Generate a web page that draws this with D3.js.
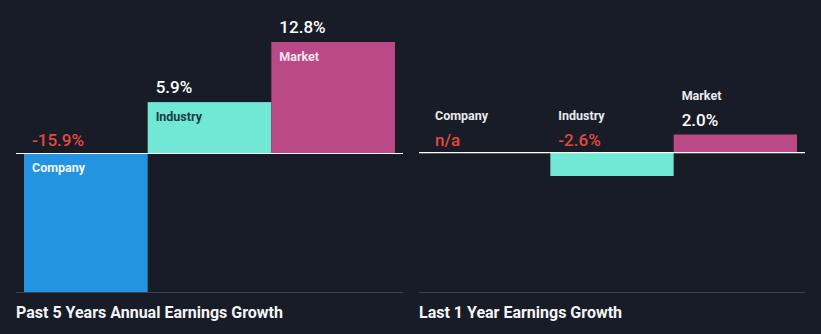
<!DOCTYPE html>
<html>
<head>
<meta charset="utf-8">
<script src="https://cdn.jsdelivr.net/npm/d3@7/dist/d3.min.js"></script>
<style>
  html, body { margin: 0; padding: 0; background: #181c26; }
  svg { display: block; font-family: Roboto, "Noto Sans", sans-serif; }
</style>
</head>
<body>
<svg id="chart" width="821" height="334"></svg>
<script>
// Earnings growth: company vs industry vs market
const categories = ["Company", "Industry", "Market"];
const fiveYearValues = [-15.9, 5.9, 12.8];
const oneYearValues = [null, -2.6, 2.0];
const panelTitles = ["Past 5 Years Annual Earnings Growth", "Last 1 Year Earnings Growth"];

const barColors = { Company: "#2394df", Industry: "#71e7d6", Market: "#bb4988" };
const insideLabelColors = { Company: "#f2f4f7", Industry: "#1b3a44", Market: "#f5e6ef" };
const negColor = "#e5473f";
const posColor = "#ffffff";

const svg = d3.select("#chart");

// plain hyphen for negatives
const fmt = v => v == null ? "n/a" : v.toFixed(1) + "%";

function drawPanel(x0, x1, barX0, barX1, values, yDomain, yRange, title, inside) {
  const g = svg.append("g");
  const x = d3.scaleBand().domain(categories).range([barX0, barX1]).padding(0);
  const y = d3.scaleLinear().domain(yDomain).range(yRange);
  const zero = y(0);

  const data = categories.map((c, i) => ({ c, v: values[i] }));

  g.selectAll("rect.bar")
    .data(data.filter(d => d.v != null))
    .join("rect")
    .attr("class", "bar")
    .attr("x", d => x(d.c))
    .attr("width", x.bandwidth())
    .attr("y", d => Math.min(y(d.v), zero))
    .attr("height", d => Math.abs(y(d.v) - zero))
    .attr("fill", d => barColors[d.c]);

  // zero line
  g.append("line")
    .attr("x1", x0).attr("x2", x1)
    .attr("y1", zero).attr("y2", zero)
    .attr("stroke", "#ffffff").attr("stroke-width", 1.2);

  // base line above the title
  g.append("line")
    .attr("x1", x0).attr("x2", x1)
    .attr("y1", 292.5).attr("y2", 292.5)
    .attr("stroke", "#3b404b").attr("stroke-width", 1);

  data.forEach(d => {
    const tx = x(d.c) + 8;
    const v = d.v;
    const valueBase = (v != null && v > 0) ? y(v) - 9 : zero - 7;
    g.append("text")
      .attr("x", tx).attr("y", valueBase)
      .attr("font-size", 17).attr("font-weight", 500)
      .attr("fill", v != null && v > 0 ? posColor : negColor)
      .text(fmt(v));
    if (inside) {
      const labBase = (v > 0 ? y(v) : zero) + 19;
      g.append("text")
        .attr("x", tx).attr("y", labBase)
        .attr("font-size", 12.5).attr("font-weight", 700)
        .attr("fill", insideLabelColors[d.c])
        .text(d.c);
    } else {
      g.append("text")
        .attr("x", tx).attr("y", valueBase - 26)
        .attr("font-size", 12.5).attr("font-weight", 700)
        .attr("fill", "#e8eaee")
        .text(d.c);
    }
  });

  g.append("text")
    .attr("x", x0).attr("y", 318)
    .attr("font-size", 16).attr("font-weight", 700)
    .attr("fill", "#f4f5f7")
    .text(title);
}

drawPanel(16, 403, 24, 395, fiveYearValues, [-15.9, 12.8], [292, 42], panelTitles[0], true);
drawPanel(419, 805, 427, 797, oneYearValues, [-2.6, 2.0], [176, 134.5], panelTitles[1], false);
</script>
</body>
</html>
